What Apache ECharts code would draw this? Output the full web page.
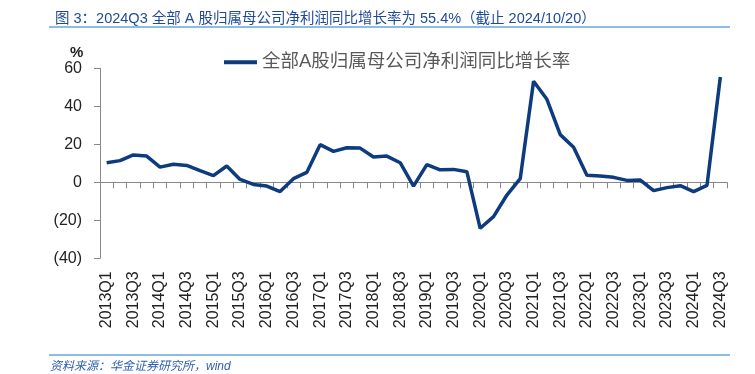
<!DOCTYPE html>
<html><head><meta charset="utf-8">
<script src="https://cdn.jsdelivr.net/npm/echarts@6/dist/echarts.min.js"></script>
<style>html,body{margin:0;padding:0;background:#fff;}#c{width:755px;height:374px;}</style>
</head><body><div id="c"></div>
<script>
const categories = [
 '2013Q1','2013Q2','2013Q3','2013Q4','2014Q1','2014Q2','2014Q3','2014Q4',
 '2015Q1','2015Q2','2015Q3','2015Q4','2016Q1','2016Q2','2016Q3','2016Q4',
 '2017Q1','2017Q2','2017Q3','2017Q4','2018Q1','2018Q2','2018Q3','2018Q4',
 '2019Q1','2019Q2','2019Q3','2019Q4','2020Q1','2020Q2','2020Q3','2020Q4',
 '2021Q1','2021Q2','2021Q3','2021Q4','2022Q1','2022Q2','2022Q3','2022Q4',
 '2023Q1','2023Q2','2023Q3','2023Q4','2024Q1','2024Q2','2024Q3'];
const growth = [
 10.3, 11.4, 14.4, 13.8, 8.0, 9.5, 8.9, 6.1,
 3.5, 8.6, 1.5, -1.1, -2.0, -4.9, 1.9, 5.2,
 19.8, 16.3, 18.2, 18.0, 13.3, 13.8, 10.3, -2.0,
 9.3, 6.6, 6.8, 5.6, -24.2, -18.1, -6.7, 1.9,
 53.2, 43.7, 25.1, 18.4, 3.7, 3.3, 2.6, 1.0,
 1.2, -4.4, -2.8, -1.8, -4.9, -1.6, 55.4];
const seriesName = '全部A股归属母公司净利润同比增长率';
const titleText = '图 3：2024Q3 全部 A 股归属母公司净利润同比增长率为 55.4%（截止 2024/10/20）';
const sourceText = '资料来源：华金证券研究所，wind';
const yTicks = {min: -40, max: 60, interval: 20};

const FONT = '"Liberation Sans", Arial, "Noto Sans CJK SC", sans-serif';
const chart = echarts.init(document.getElementById('c'), null, {renderer: 'canvas'});
chart.setOption({
  animation: false,
  backgroundColor: '#fff',
  textStyle: {fontFamily: FONT},
  title: {
    text: titleText, left: 50, top: 7,
    textStyle: {fontSize: 14.5, fontWeight: 'normal', color: '#1f4a98', fontFamily: FONT}
  },
  graphic: [
    {type: 'line', shape: {x1: 49, y1: 27, x2: 730, y2: 27}, style: {stroke: '#8dbbe3', lineWidth: 2}},
    {type: 'line', shape: {x1: 49, y1: 355, x2: 730, y2: 355}, style: {stroke: '#8dbbe3', lineWidth: 2}},
    {type: 'text', left: 50, top: 361, style: {text: sourceText, fill: '#2f5fae', font: 'italic 12px ' + FONT}},
    {type: 'text', left: 70, top: 45, style: {text: '%', fill: '#222', font: 'bold 15px ' + FONT}}
  ],
  legend: {
    show: true, left: 219, top: 48, itemWidth: 33, itemHeight: 4, itemGap: 10,
    textStyle: {fontSize: 18.5, color: '#595959', fontFamily: FONT},
    data: [{name: seriesName, icon: 'rect', itemStyle: {color: '#0d3b7d'}}]
  },
  grid: {left: 100, right: 28, top: 68.3, bottom: 115.7, containLabel: false},
  xAxis: [
    {type: 'category', data: categories, boundaryGap: true,
     axisLine: {show: true, onZero: true, lineStyle: {color: '#888', width: 1}},
     axisTick: {show: true, interval: 0, length: 6, lineStyle: {color: '#888'}},
     axisLabel: {show: false}, splitLine: {show: false}},
    {type: 'category', data: categories, boundaryGap: true, position: 'bottom',
     axisLine: {show: false, onZero: false}, axisTick: {show: false},
     axisLabel: {show: true, interval: 1, rotate: 90, margin: 13, fontSize: 16, color: '#222', fontFamily: FONT},
     splitLine: {show: false}}
  ],
  yAxis: {
    type: 'value', min: yTicks.min, max: yTicks.max, interval: yTicks.interval,
    axisLine: {show: true, lineStyle: {color: '#888'}},
    axisTick: {show: true, length: 6, lineStyle: {color: '#888'}},
    splitLine: {show: false},
    axisLabel: {margin: 18, fontSize: 16, color: '#222', fontFamily: FONT,
      formatter: v => v < 0 ? '(' + Math.abs(v) + ')' : String(v)}
  },
  series: [{
    name: seriesName, type: 'line', data: growth, xAxisIndex: 0,
    symbol: 'none', smooth: false,
    lineStyle: {color: '#0d3b7d', width: 3.5},
    itemStyle: {color: '#0d3b7d'}
  }]
});
</script></body></html>
